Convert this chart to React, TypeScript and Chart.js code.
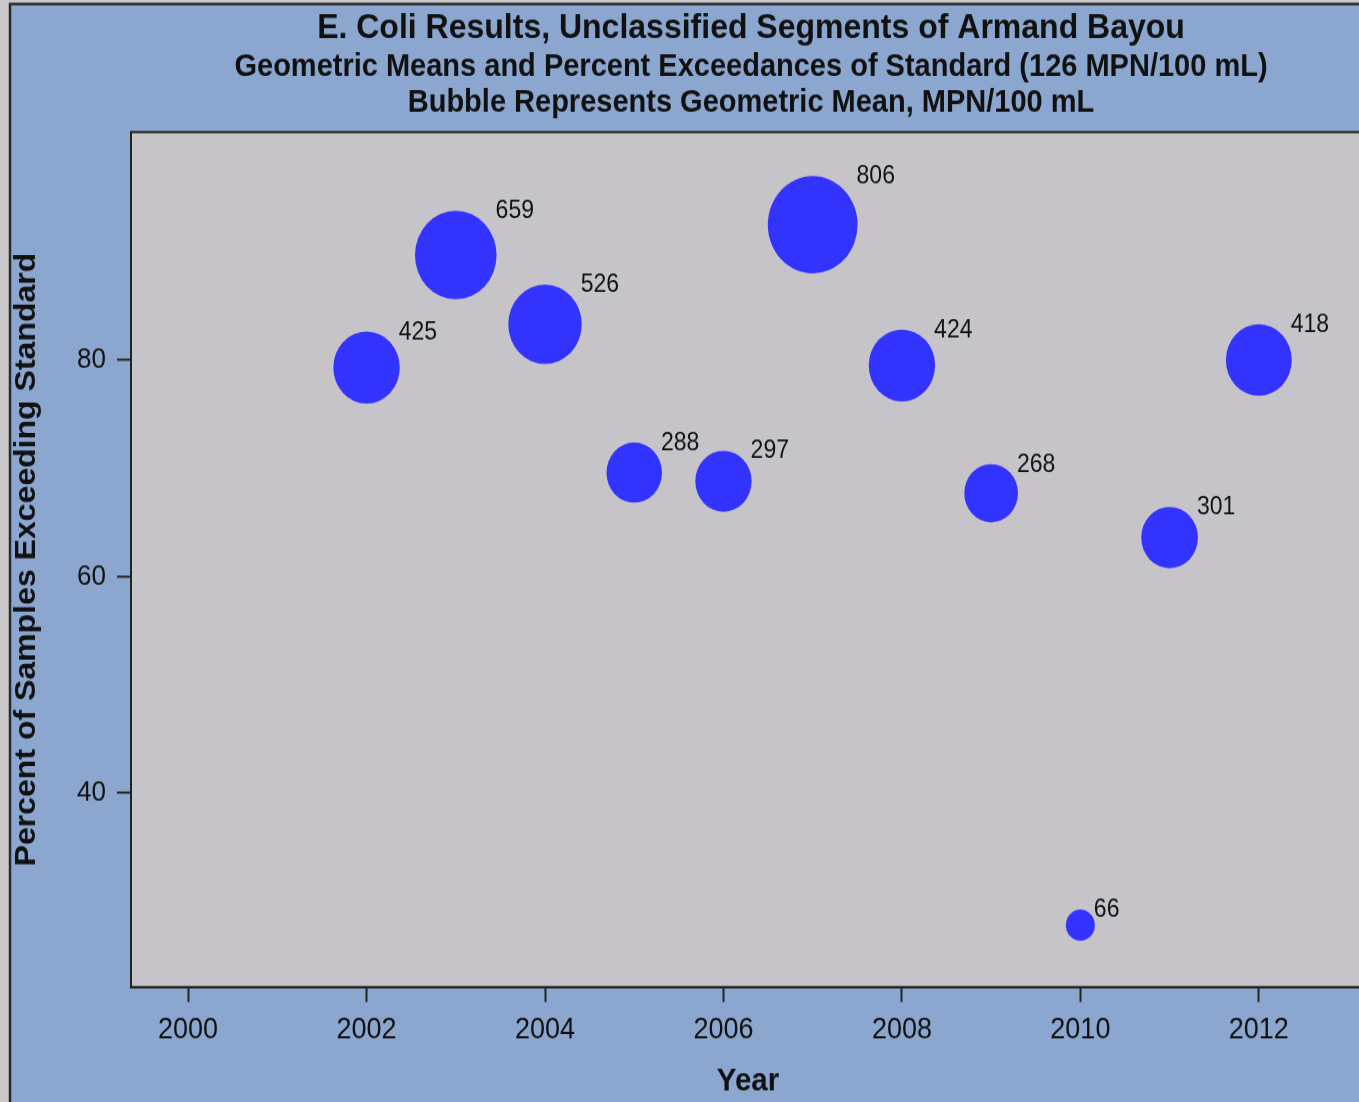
import { useEffect, useRef } from "react";
import { Chart, registerables } from "chart.js";

Chart.register(...registerables);

// ---- data ----
const years = [2002, 2003, 2004, 2005, 2006, 2007, 2008, 2009, 2010, 2011, 2012];
const percentExceeding = [79.3, 89.7, 83.3, 69.6, 68.8, 92.5, 79.5, 67.7, 27.8, 63.6, 80.0];
const geometricMeans = [425, 659, 526, 288, 297, 806, 424, 268, 66, 301, 418];
const xTickValues = [2000, 2002, 2004, 2006, 2008, 2010, 2012];
const yTickValues = [40, 60, 80];
const titleText = "E. Coli Results, Unclassified Segments of Armand Bayou";
const subtitleText = [
  "Geometric Means and Percent Exceedances of Standard (126 MPN/100 mL)",
  "Bubble Represents Geometric Mean, MPN/100 mL",
];
const xAxisTitle = "Year";
const yAxisTitle = "Percent of Samples Exceeding Standard";

// ---- styles ----
const STRETCH = 1.085; // the reference is slightly stretched vertically
const W = 1502;
const H = 1042;
const FONT = "'Liberation Sans', Arial, Helvetica, sans-serif";
const TEXT = "#111111";
const FRAME_BG = "#8ba6cf";
const OUTER_BG = "#c9c8ca";
const PLOT_BG = "#c6c4c8";
const BUBBLE = "#3333ff";
const bubbleRadius = (v: number) => 2.3 + 1.5 * Math.sqrt(v);

const framePlugin = {
  id: "framePlugin",
  beforeDraw(chart: any) {
    const { ctx, chartArea: a } = chart;
    ctx.save();
    ctx.fillStyle = OUTER_BG;
    ctx.fillRect(0, 0, W, H);
    ctx.fillStyle = FRAME_BG;
    ctx.fillRect(10, 3.7, W - 20, H - 7.4);
    ctx.strokeStyle = "#2a2a2a";
    ctx.lineWidth = 2.5;
    ctx.strokeRect(10, 3.7, W - 20, H - 7.4);
    ctx.fillStyle = PLOT_BG;
    ctx.fillRect(a.left, a.top, a.right - a.left, a.bottom - a.top);
    ctx.strokeStyle = "#222222";
    ctx.lineWidth = 2;
    ctx.strokeRect(a.left, a.top, a.right - a.left, a.bottom - a.top);
    ctx.restore();
  },
};

const labelPlugin = {
  id: "bubbleLabels",
  afterDatasetsDraw(chart: any) {
    const { ctx } = chart;
    const meta = chart.getDatasetMeta(0);
    ctx.save();
    ctx.font = `23px ${FONT}`;
    ctx.fillStyle = TEXT;
    ctx.textAlign = "left";
    ctx.textBaseline = "alphabetic";
    meta.data.forEach((el: any, i: number) => {
      const r = el.options.radius;
      ctx.fillText(String(geometricMeans[i]), el.x + r - 1, el.y - r + 7);
    });
    ctx.restore();
  },
};

export default function App() {
  const ref = useRef<HTMLCanvasElement | null>(null);

  useEffect(() => {
    if (!ref.current) return;
    const data = years.map((y, i) => ({
      x: y,
      y: percentExceeding[i],
      r: bubbleRadius(geometricMeans[i]),
    }));
    const chart = new Chart(ref.current, {
      type: "bubble",
      data: {
        datasets: [
          {
            label: "Geometric Mean",
            data,
            backgroundColor: BUBBLE,
            borderColor: BUBBLE,
            borderWidth: 0,
          },
        ],
      },
      options: {
        responsive: false,
        animation: false,
        events: [],
        layout: { padding: { top: 3.7, left: 0, right: 0, bottom: 0 } },
        plugins: {
          legend: { display: false },
          tooltip: { enabled: false },
          title: {
            display: true,
            text: titleText,
            color: TEXT,
            font: { family: FONT, size: 32, weight: "bold", lineHeight: 1.2 },
            padding: { top: 3.4, bottom: 0 },
          },
          subtitle: {
            display: true,
            text: subtitleText,
            color: TEXT,
            font: { family: FONT, size: 29, weight: "bold", lineHeight: 1.114 },
            padding: { top: 0.55, bottom: 11.05 },
          },
        },
        scales: {
          x: {
            type: "linear",
            position: "bottom",
            min: 1999.36,
            max: 2013.19,
            afterBuildTicks: (s: any) => {
              s.ticks = xTickValues.map((v) => ({ value: v }));
            },
            afterFit: (s: any) => {
              s.height = H - 909.7;
            },
            ticks: {
              color: TEXT,
              font: { family: FONT, size: 27 },
              padding: 9.6,
              maxRotation: 0,
              autoSkip: false,
              callback: (v: any) => String(v),
            },
            grid: {
              drawOnChartArea: false,
              drawTicks: true,
              tickLength: 13.8,
              tickWidth: 2,
              color: "#222222",
            },
            border: { display: true, color: "#222222", width: 2 },
            title: {
              display: true,
              text: xAxisTitle,
              color: TEXT,
              font: { family: FONT, size: 29.5, weight: "bold", lineHeight: 1.2 },
              padding: { top: 0, bottom: 27.1 },
            },
          },
          y: {
            type: "linear",
            position: "left",
            min: 22.08,
            max: 101.06,
            afterBuildTicks: (s: any) => {
              s.ticks = yTickValues.map((v) => ({ value: v }));
            },
            afterFit: (s: any) => {
              s.width = 131;
            },
            ticks: {
              color: TEXT,
              font: { family: FONT, size: 26 },
              padding: 11,
              autoSkip: false,
              callback: (v: any) => String(v),
            },
            grid: {
              drawOnChartArea: false,
              drawTicks: true,
              tickLength: 14,
              tickWidth: 2,
              color: "#222222",
            },
            border: { display: true, color: "#222222", width: 2 },
            title: {
              display: true,
              text: yAxisTitle,
              color: TEXT,
              font: { family: FONT, size: 29.5, weight: "bold", lineHeight: 1.2 },
              padding: { top: 9.3, bottom: 0 },
            },
          },
          y2: {
            type: "linear",
            position: "right",
            min: 0,
            max: 1,
            ticks: { display: false },
            grid: { display: false, drawTicks: false },
            border: { display: false },
            afterFit: (s: any) => {
              s.width = 137;
            },
          },
        },
      },
      plugins: [framePlugin, labelPlugin],
    } as any);
    return () => chart.destroy();
  }, []);

  return (
    <div
      style={{
        position: "absolute",
        left: 0,
        top: 0,
        width: 1359,
        height: 1102,
        overflow: "hidden",
        background: OUTER_BG,
      }}
    >
      <canvas
        ref={ref}
        width={W}
        height={H}
        style={{
          display: "block",
          transform: `scaleY(${STRETCH})`,
          transformOrigin: "0 0",
        }}
      />
    </div>
  );
}
